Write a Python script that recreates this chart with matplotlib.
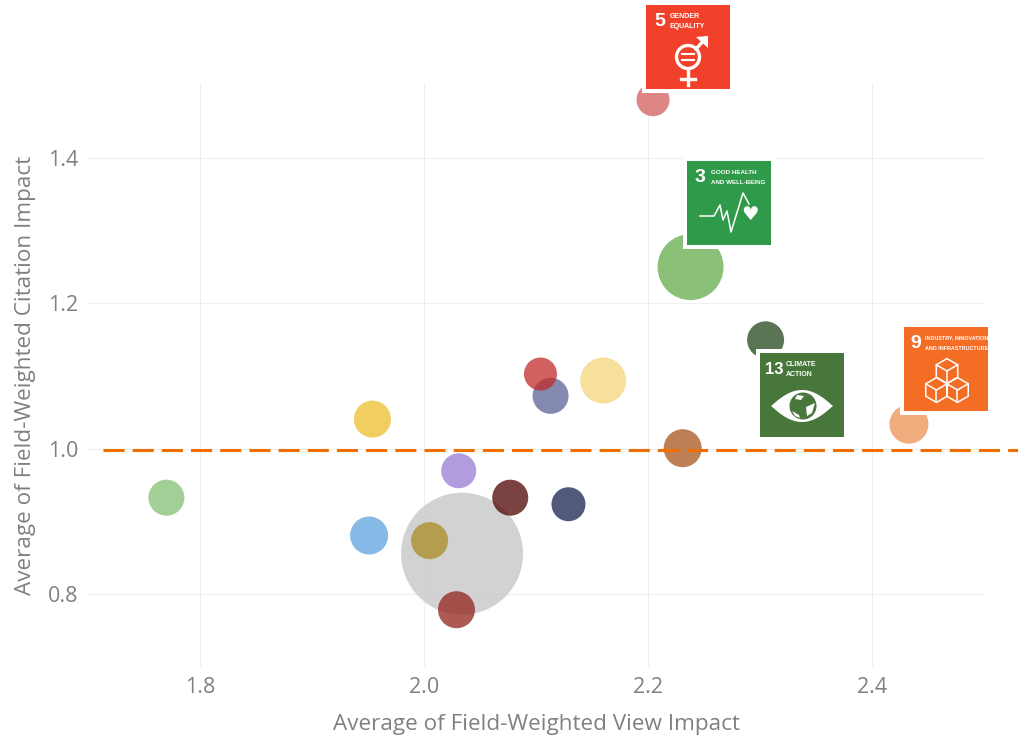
import numpy as np
import matplotlib
matplotlib.use('Agg')
import matplotlib.pyplot as plt
from matplotlib.patches import Rectangle, Circle, Polygon

plt.rcParams['font.family'] = ['Open Sans', 'DejaVu Sans']

# bubble data
view_impact = [2.034, 2.2045, 2.238, 2.305, 2.433, 2.231, 2.16, 2.113, 2.104, 1.954,
               2.031, 1.77, 1.951, 2.005, 2.077, 2.129, 2.029]
citation_impact = [0.856, 1.48, 1.25, 1.15, 1.034, 1.001, 1.094, 1.073, 1.103, 1.041,
                   0.970, 0.933, 0.881, 0.874, 0.933, 0.924, 0.779]
bubble_size = [61, 16.5, 33, 18.5, 19.5, 19, 23, 18, 16.5, 18.5,
               17.5, 18, 19, 18.5, 18, 17, 18.5]
colors = ['#C4C4C4', '#D45D5D', '#63AB4B', '#23471A', '#EB9050', '#A7561C', '#F3D67B', '#5B6294',
          '#C22B28', '#EBC02B', '#987BD6', '#83BF72', '#5CA3DE', '#AA8C22', '#4E0300', '#182350', '#92231C']
reference_line = 0.998

x_ticks = [1.8, 2.0, 2.2, 2.4]
y_ticks = [0.8, 1.0, 1.2, 1.4]

W, H = 1018, 736
fig = plt.figure(figsize=(W / 100, H / 100), dpi=100)
ax = fig.add_axes([88 / W, 1 - 667.2 / H, (984 - 88) / W, (667.2 - 83) / H])
ax.set_xlim(1.7, 2.5)
ax.set_ylim(0.7, 1.503)

ax.set_xticks(x_ticks)
ax.set_yticks(y_ticks)
ax.set_xticklabels(['%.1f' % v for v in x_ticks])
ax.set_yticklabels(['%.1f' % v for v in y_ticks])
ax.grid(color='#EFEFEF', linewidth=0.8)
ax.set_axisbelow(True)
ax.tick_params(length=0, labelsize=15.5, labelcolor='#808080')
ax.tick_params(axis='x', pad=7)
ax.tick_params(axis='y', pad=7)
for s in ax.spines.values():
    s.set_visible(False)
ax.set_xlabel('Average of Field-Weighted View Impact', fontsize=16.2, color='#808080', labelpad=11.5)
ax.set_ylabel('Average of Field-Weighted Citation Impact', fontsize=16.2, color='#808080', labelpad=8.5)

# radius in px -> scatter area in points^2
areas = [(2 * r * 0.72) ** 2 for r in bubble_size]
ax.scatter(view_impact, citation_impact, s=areas, c=colors, alpha=0.75, linewidths=0, zorder=3, clip_on=False)

# dashed line runs past the plot area up to the image edge
ax.plot([1.7134, 2.535], [reference_line, reference_line], color='#F06E00', linewidth=2.2,
        dashes=(6.9, 2.65), dash_capstyle='butt', clip_on=False, zorder=4)

# overlay in pixel coordinates for the SDG icons
ov = fig.add_axes([0, 0, 1, 1], zorder=5)
ov.set_xlim(0, W)
ov.set_ylim(H, 0)
ov.axis('off')


def icon(x0, y0, color, number, title, num_x=8, num_size=14, title_size=4.8, title_x=24):
    size = 84
    ov.add_patch(Rectangle((x0 - 4, y0 - 4), size + 8, size + 8, fc='white', ec='none'))
    ov.add_patch(Rectangle((x0, y0), size, size, fc=color, ec='none'))
    ov.text(x0 + num_x, y0 + 16, number, color='white', fontsize=num_size, fontweight='bold',
            family=['Liberation Sans', 'DejaVu Sans'], ha='left', va='center')
    for i, line in enumerate(title):
        ov.text(x0 + title_x, y0 + 11 + i * 10, line, color='white', fontsize=title_size, fontweight='bold',
                family=['Liberation Sans', 'DejaVu Sans'], ha='left', va='center')


def cube(cx, cy, r):
    dx = r * 0.866
    top = [(cx, cy - r), (cx + dx, cy - r / 2), (cx + dx, cy + r / 2), (cx, cy + r),
           (cx - dx, cy + r / 2), (cx - dx, cy - r / 2)]
    ov.add_patch(Polygon(top, closed=True, fc='none', ec='white', lw=1.1))
    for p in [(cx + dx, cy - r / 2), (cx, cy + r), (cx - dx, cy - r / 2)]:
        ov.plot([cx, p[0]], [cy, p[1]], color='white', lw=1.1)


# goal 5
x0, y0 = 646, 5
icon(x0, y0, '#F1412A', '5', ['GENDER', 'EQUALITY'], title_size=5)
ov.add_patch(Circle((x0 + 42, y0 + 52), 11.5, fc='none', ec='white', lw=2.4))
ov.plot([x0 + 50, x0 + 60], [y0 + 44, y0 + 33], color='white', lw=2.4)
ov.add_patch(Polygon([(x0 + 50, y0 + 32), (x0 + 62, y0 + 31), (x0 + 62, y0 + 43)], fc='white', ec='none'))
ov.plot([x0 + 42, x0 + 42], [y0 + 64, y0 + 80], color='white', lw=2.4)
ov.plot([x0 + 35, x0 + 49], [y0 + 74, y0 + 74], color='white', lw=2.4)
ov.plot([x0 + 36, x0 + 48], [y0 + 49, y0 + 49], color='white', lw=1.5)
ov.plot([x0 + 36, x0 + 48], [y0 + 55, y0 + 55], color='white', lw=1.5)

# goal 3
x0, y0 = 687, 161
icon(x0, y0, '#2E9A4A', '3', ['GOOD HEALTH', 'AND WELL-BEING'], title_size=4.5)
pulse_x = [13, 27, 33, 36, 40, 44, 56, 62]
pulse_y = [55, 55, 44, 59, 50, 71, 32, 43]
ov.plot([x0 + v for v in pulse_x], [y0 + v for v in pulse_y], color='white', lw=1.1)
ov.text(x0 + 63, y0 + 54, '\u2665', color='white', fontsize=14, ha='center', va='center',
        family=['DejaVu Sans'])

# goal 13
x0, y0 = 760, 353
icon(x0, y0, '#48773C', '13', ['CLIMATE', 'ACTION'], num_x=5, num_size=12, title_size=5, title_x=26)
t = np.linspace(-1, 1, 60)
half = 16 * (1 - t ** 2) ** 1.1
eye_x = x0 + 42 + 31 * t
eye_top = np.column_stack([eye_x, y0 + 53 - half])
eye_bot = np.column_stack([eye_x[::-1], y0 + 53 + half[::-1]])
ov.add_patch(Polygon(np.vstack([eye_top, eye_bot]), fc='white', ec='none'))
ov.add_patch(Circle((x0 + 43, y0 + 53), 13.5, fc='#48773C', ec='none'))
ov.add_patch(Polygon([(x0 + 37, y0 + 42), (x0 + 44, y0 + 43), (x0 + 41, y0 + 47), (x0 + 35, y0 + 46)], fc='white', ec='none'))
ov.add_patch(Polygon([(x0 + 46, y0 + 54), (x0 + 55, y0 + 50), (x0 + 52, y0 + 60), (x0 + 47, y0 + 63)], fc='white', ec='none'))
ov.add_patch(Polygon([(x0 + 32, y0 + 58), (x0 + 39, y0 + 62), (x0 + 40, y0 + 65), (x0 + 35, y0 + 63)], fc='white', ec='none'))

# goal 9
x0, y0 = 904, 327
icon(x0, y0, '#F36D25', '9', ['INDUSTRY, INNOVATION', 'AND INFRASTRUCTURE'], num_x=6, title_size=3.9, title_x=21)
cube(x0 + 43, y0 + 44, 12.4)
cube(x0 + 32.5, y0 + 63, 12.4)
cube(x0 + 53.5, y0 + 63, 12.4)

fig.savefig('out.png', dpi=100, facecolor='white')
